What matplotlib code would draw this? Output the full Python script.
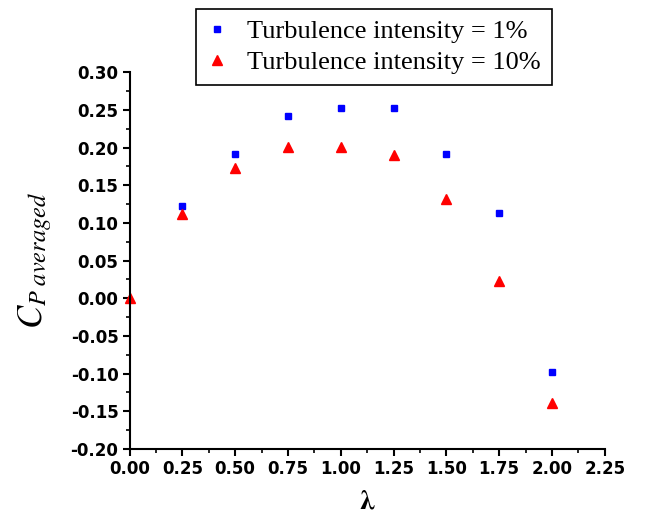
import matplotlib.pyplot as plt
from matplotlib.ticker import MultipleLocator, FormatStrFormatter

# lambda values
lam_1 = [0.25, 0.50, 0.75, 1.00, 1.25, 1.50, 1.75, 2.00]
lam_10 = [0.00, 0.25, 0.50, 0.75, 1.00, 1.25, 1.50, 1.75, 2.00]

# Cp averaged
cp_1 = [0.122, 0.191, 0.242, 0.252, 0.252, 0.191, 0.113, -0.098]
cp_10 = [0.000, 0.112, 0.173, 0.201, 0.201, 0.190, 0.132, 0.023, -0.139]

plt.rcParams['mathtext.fontset'] = 'stix'

fig = plt.figure(figsize=(6.51, 5.16), dpi=100)
ax = fig.add_axes([0.199, 0.130, 0.730, 0.730])

ax.plot(lam_1, cp_1, 's', color='#0000ff', markersize=5, clip_on=False,
        label='Turbulence intensity = 1%')
ax.plot(lam_10, cp_10, '^', color='#ff0000', markersize=7, clip_on=False,
        label='Turbulence intensity = 10%')

ax.set_xlim(0, 2.25)
ax.set_ylim(-0.20, 0.30)
ax.xaxis.set_major_locator(MultipleLocator(0.25))
ax.xaxis.set_minor_locator(MultipleLocator(0.125))
ax.yaxis.set_major_locator(MultipleLocator(0.05))
ax.yaxis.set_minor_locator(MultipleLocator(0.025))
ax.xaxis.set_major_formatter(FormatStrFormatter('%.2f'))
ax.yaxis.set_major_formatter(FormatStrFormatter('%.2f'))

ax.spines['top'].set_visible(False)
ax.spines['right'].set_visible(False)
for s in ['left', 'bottom']:
    ax.spines[s].set_linewidth(1.5)
ax.tick_params(which='major', direction='out', length=5, width=1.5,
               labelsize=12, pad=3)
ax.tick_params(which='minor', direction='out', length=3, width=1.2)
for lab in ax.get_xticklabels() + ax.get_yticklabels():
    lab.set_fontweight('bold')

ax.set_xlabel(r'$\mathbf{\lambda}$', fontsize=20, labelpad=6)
ax.set_ylabel(r'$C_{\mathbf{\mathit{P}}\ \mathit{averaged}}$', fontsize=25,
              labelpad=12)

leg = ax.legend(loc='upper left', bbox_to_anchor=(0.301, 0.983),
                bbox_transform=fig.transFigure, borderaxespad=0,
                prop={'family': 'Liberation Serif', 'size': 19},
                fancybox=False, edgecolor='black', framealpha=1,
                handlelength=0.8, handletextpad=0.75, labelspacing=0.3,
                borderpad=0.4)
leg.get_frame().set_linewidth(1.2)

fig.savefig('out.png', dpi=100)
